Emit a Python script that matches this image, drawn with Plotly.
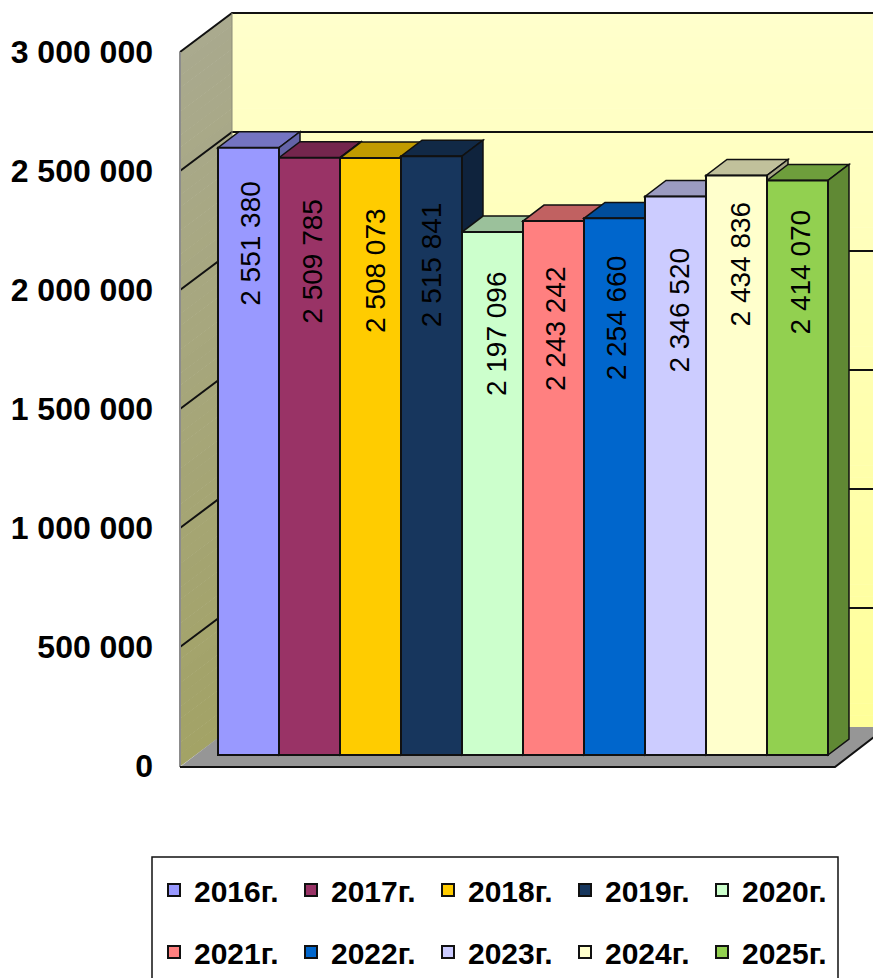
import plotly.graph_objects as go

years = ["2016г.", "2017г.", "2018г.", "2019г.", "2020г.", "2021г.", "2022г.", "2023г.", "2024г.", "2025г."]
values = [2551380, 2509785, 2508073, 2515841, 2197096, 2243242, 2254660, 2346520, 2434836, 2414070]
colors = ["#9999FF", "#993366", "#FFCC00", "#17365D", "#CCFFCC", "#FF8080", "#0066CC", "#CCCCFF", "#FFFFCC", "#92D050"]
label_drop = [31, 39, 48, 44, 37, 43, 35, 49, 24, 27]
label_shift = [2, 3, 5, 0, 4, 2, 2, 4, 4, 3]
tick_values = [0, 500000, 1000000, 1500000, 2000000, 2500000, 3000000]

W, H = 873, 978
PL, PB = 180, 767          # plot area left / bottom in page pixels
FONT = "Liberation Sans"
PX_PER_UNIT = 715 / 3000000
BAR_W = 61
BAR_LEFT = 218
BAR_BASE = 756
FLOOR_FRONT = 768
DX, DY = 21, 16            # bar depth in pixels
WX, WY = 52, 39            # wall depth in pixels


def px(x):
    return (x - PL) / (W - PL)


def py(y):
    return (PB - y) / PB


def shade(hex_c, f):
    r, g, b = [int(hex_c[i:i + 2], 16) for i in (1, 3, 5)]
    return f"rgb({int(r * f)},{int(g * f)},{int(b * f)})"


def paper_poly(pts, fill=None, line=None, lw=1):
    d = "M" + " L".join(f"{px(x):.5f},{py(y):.5f}" for x, y in pts) + (" Z" if fill else "")
    return dict(type="path", xref="paper", yref="paper", path=d, layer="below",
                fillcolor=fill or "rgba(0,0,0,0)",
                line=dict(color=line or "rgba(0,0,0,0)", width=lw))


shapes = []
# gradient walls
N = 60
for k in range(N):
    t0, t1 = k / N, (k + 1) / N
    c = f"rgb(255,255,{int(204 - 51 * t0)})"
    y0, y1 = 13 + 715 * t0, 13 + 715 * t1 + 0.6
    shapes.append(paper_poly([(232, y0), (W + 5, y0), (W + 5, y1), (232, y1)], fill=c))
    c2 = f"rgb({int(170 - 7 * t0)},{int(170 - 7 * t0)},{int(142 - 40 * t0)})"
    shapes.append(paper_poly([(180, 52 + 715 * t0), (232, y0), (232, y1), (180, 52 + 715 * t1 + 0.6)], fill=c2))
# floor
shapes.append(paper_poly([(180, FLOOR_FRONT), (232, 728), (232 + 655, 728), (835, FLOOR_FRONT)], fill="#969696"))
# grid lines
for v in tick_values[1:]:
    yf = 767 - v * PX_PER_UNIT
    shapes.append(paper_poly([(180, yf), (232, yf - WY), (W + 5, yf - WY)], line="#111111", lw=2))
shapes.append(paper_poly([(180, 52), (180, FLOOR_FRONT)], line="#8c8c8c", lw=2))
shapes.append(paper_poly([(232, 13), (232, 728)], line="#8c8c78", lw=1))
shapes.append(paper_poly([(180, FLOOR_FRONT), (835, FLOOR_FRONT), (887, 728)], line="#111111", lw=2))

# bar top and side faces
dx = DX / BAR_W
dv = DY / PX_PER_UNIT
for i, (v, c) in enumerate(zip(values, colors)):
    x0, x1 = i - 0.5, i + 0.5
    shapes.append(dict(type="path", xref="x", yref="y2", layer="below",
                       path=f"M{x0},{v} L{x1},{v} L{x1 + dx},{v + dv} L{x0 + dx},{v + dv} Z",
                       fillcolor=shade(c, 0.76), line=dict(color="#111111", width=1.5)))
    shapes.append(dict(type="path", xref="x", yref="y2", layer="below",
                       path=f"M{x1},0 L{x1 + dx},{dv} L{x1 + dx},{v + dv} L{x1},{v} Z",
                       fillcolor=shade(c, 0.66), line=dict(color="#111111", width=1.5)))
# legend frame
shapes.append(paper_poly([(152, 858), (838, 858), (838, 990), (152, 990)], fill="white", line="#111111", lw=1.5))

fig = go.Figure()
# carries the value axis, whose zero sits on the front edge of the floor
fig.add_trace(go.Scatter(x=[0] * len(tick_values), y=tick_values, mode="markers",
                         marker=dict(opacity=0), showlegend=False, hoverinfo="skip"))
for i, (yr, v, c) in enumerate(zip(years, values, colors)):
    fig.add_trace(go.Bar(x=[i], y=[v], name=yr, width=1, yaxis="y2",
                         marker=dict(color=c, line=dict(color="#111111", width=2)),
                         legend="legend" if i < 5 else "legend2"))

annotations = [
    dict(x=i, y=v, xref="x", yref="y2", yanchor="top", xanchor="center", showarrow=False,
         yshift=-d, xshift=s, textangle=-90,
         text=f"{v:,}".replace(",", " "),
         font=dict(family=FONT, size=28, color="black"))
    for i, (v, d, s) in enumerate(zip(values, label_drop, label_shift))
]

legend_common = dict(orientation="h", entrywidth=92, entrywidthmode="pixels",
                     xanchor="left", yanchor="middle", bgcolor="rgba(0,0,0,0)",
                     x=px(154), font=dict(family=FONT, size=30, weight="bold", color="black"),
                     traceorder="normal")

fig.update_layout(
    width=W, height=H, autosize=False,
    margin=dict(l=PL, r=0, t=0, b=H - PB, pad=0),
    paper_bgcolor="white", plot_bgcolor="rgba(0,0,0,0)",
    barmode="overlay", separators=". ",
    shapes=shapes, annotations=annotations,
    legend=dict(y=py(890), **legend_common),
    legend2=dict(y=py(953), **legend_common),
    xaxis=dict(visible=False, range=[(PL - BAR_LEFT) / BAR_W - 0.5, (W - BAR_LEFT) / BAR_W - 0.5], fixedrange=True),
    yaxis=dict(range=[0, PB / PX_PER_UNIT], tickvals=tick_values, tickformat=",d",
               showgrid=False, zeroline=False, showline=False, ticks="", ticklabelstandoff=26,
               tickfont=dict(family=FONT, size=32, weight="bold", color="black"), fixedrange=True),
    yaxis2=dict(overlaying="y", visible=False, fixedrange=True,
                range=[-(PB - BAR_BASE) / PX_PER_UNIT, BAR_BASE / PX_PER_UNIT]),
)
fig.write_html("out.html", config={"displayModeBar": False}, post_script="document.body.style.margin='0';")
